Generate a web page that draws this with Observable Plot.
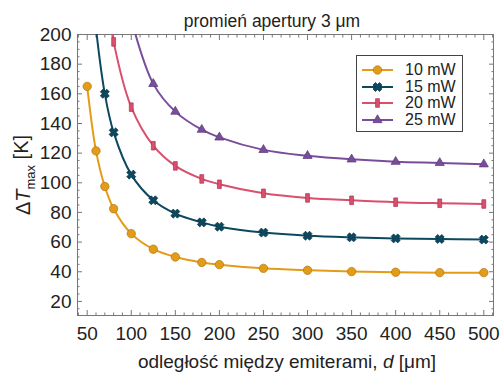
<!DOCTYPE html>
<html><head><meta charset="utf-8">
<script src="https://cdn.jsdelivr.net/npm/d3@7"></script>
<script src="https://cdn.jsdelivr.net/npm/@observablehq/plot@0.6"></script>
<style>
body{margin:0;background:#fff;font-family:"Liberation Sans",Arial,sans-serif}
#wrap{position:relative;width:504px;height:374px}
#legend{position:absolute;left:356px;top:55px;width:107px;height:77px;border:1px solid #444;background:#fff;box-sizing:border-box}
.row{position:absolute;left:0;height:16px;display:flex;align-items:center;font-size:16px;color:#222}
.row svg{margin-left:5px}
.row span{margin-left:12px}
</style></head><body><div id="wrap"><div id="legend"></div></div>
<script>
const distances = [50, 60, 70, 80, 100, 125, 150, 180, 200, 250, 300, 350, 400, 450, 500];
const seriesNames = ["10 mW", "15 mW", "20 mW", "25 mW"];
const dT10 = [165, 121.5, 97.5, 82.5, 65.7, 55.2, 50, 46.3, 44.8, 42.3, 41, 40.1, 39.7, 39.4, 39.4];
const dT15 = [268, 204, 160, 134, 105.5, 88.2, 79.2, 73.3, 70.4, 66.4, 64.3, 63.2, 62.5, 62.1, 61.7];
const dT20 = [null, 290, 235, 195, 151, 125, 111.4, 102.6, 99, 92.9, 89.8, 88.2, 86.9, 86.2, 85.7];
const dT25 = [null, null, null, 262, 210, 166.7, 148, 135.8, 130.6, 122.2, 118.2, 115.8, 114.2, 113.4, 112.5];
const xTicks = [50, 100, 150, 200, 250, 300, 350, 400, 450, 500];
const yTicks = [20, 40, 60, 80, 100, 120, 140, 160, 180, 200];
const xMinor = d3.range(40, 511, 10).filter(v => v % 50 !== 0);
const yMinor = d3.range(15, 200, 5).filter(v => v % 20 !== 0);

const colors = ["#e39c17", "#0c4860", "#d94f6c", "#7a4d9b"];
const edges = ["#b07510", "#06303f", "#a83550", "#5a3678"];

const symX = {draw(ctx, size) {
  const r = Math.sqrt(size / Math.PI) * 1.05, t = r * 0.38;
  const pts = [[t,-r],[t,-t],[r,-t],[r,t],[t,t],[t,r],[-t,r],[-t,t],[-r,t],[-r,-t],[-t,-t],[-t,-r]];
  const c = Math.SQRT1_2;
  pts.forEach(([x, y], i) => {
    const X = (x - y) * c, Y = (x + y) * c;
    i ? ctx.lineTo(X, Y) : ctx.moveTo(X, Y);
  });
  ctx.closePath();
}};
const symBar = {draw(ctx, size) {
  const r = Math.sqrt(size / Math.PI);
  const w = r * 0.45, h = r * 1.0;
  ctx.moveTo(-w, -h); ctx.lineTo(w, -h); ctx.lineTo(w, h); ctx.lineTo(-w, h); ctx.closePath();
}};
const symbols = ["circle", symX, symBar, "triangle"];
const radii = [4.2, 4.4, 4.3, 3.4];

const allSeries = [dT10, dT15, dT20, dT25];
const rows = [];
allSeries.forEach((vals, s) => distances.forEach((d, i) => {
  if (vals[i] != null) rows.push({s, name: seriesNames[s], d, v: vals[i]});
}));

const marks = [];
allSeries.forEach((vals, s) => {
  const data = rows.filter(r => r.s === s);
  marks.push(Plot.line(data, {x: "d", y: "v", stroke: colors[s], strokeWidth: 2, curve: "catmull-rom", clip: true}));
});
allSeries.forEach((vals, s) => {
  const data = rows.filter(r => r.s === s);
  marks.push(Plot.dot(data, {x: "d", y: "v", symbol: () => symbols[s], r: radii[s], fill: colors[s], stroke: edges[s], strokeWidth: 0.7, clip: true}));
});

const tickColor = "#777";
const plot = Plot.plot({
  width: 504, height: 374,
  marginLeft: 77, marginRight: 11, marginTop: 34, marginBottom: 59,
  style: {fontSize: "19px", fontFamily: "'Liberation Sans', Arial, sans-serif", color: "#222", background: "#fff"},
  x: {domain: [39, 511]},
  y: {domain: [10.5, 200]},
  symbol: {type: "identity"},
  marks: [
    Plot.frame({stroke: "#777", strokeWidth: 1}),
    Plot.axisX({anchor: "bottom", ticks: xTicks, tickSize: 5, dy: -5, text: null, stroke: tickColor, label: null}),
    Plot.axisX({anchor: "top", ticks: xTicks, tickSize: 5, dy: 5, text: null, stroke: tickColor, label: null}),
    Plot.axisX({anchor: "bottom", ticks: xMinor, tickSize: 2.5, dy: -2.5, text: null, stroke: tickColor, label: null}),
    Plot.axisX({anchor: "top", ticks: xMinor, tickSize: 2.5, dy: 2.5, text: null, stroke: tickColor, label: null}),
    Plot.axisY({anchor: "left", ticks: yTicks, tickSize: 5, dx: 5, text: null, stroke: tickColor, label: null}),
    Plot.axisY({anchor: "right", ticks: yTicks, tickSize: 5, dx: -5, text: null, stroke: tickColor, label: null}),
    Plot.axisY({anchor: "left", ticks: yMinor, tickSize: 2.5, dx: 2.5, text: null, stroke: tickColor, label: null}),
    Plot.axisY({anchor: "right", ticks: yMinor, tickSize: 2.5, dx: -2.5, text: null, stroke: tickColor, label: null}),
    Plot.axisX({anchor: "bottom", ticks: xTicks, tickSize: 0, tickPadding: 11, label: null, fill: "#222"}),
    Plot.axisY({anchor: "left", ticks: yTicks, tickSize: 0, tickPadding: 6, label: null, fill: "#222"}),
    ...marks
  ]
});
document.getElementById("wrap").prepend(plot);

const svg = d3.select(plot);
const font = "'Liberation Sans', Arial, sans-serif";
svg.append("text").attr("x", 272).attr("y", 27).attr("text-anchor", "middle")
  .attr("font-size", 17.5).attr("fill", "#222").attr("font-family", font).text("promień apertury 3 μm");
const xl = svg.append("text").attr("x", 287).attr("y", 368).attr("text-anchor", "middle")
  .attr("font-size", 19).attr("fill", "#222").attr("font-family", font);
xl.append("tspan").text("odległość między emiterami, ");
xl.append("tspan").attr("font-style", "italic").text("d");
xl.append("tspan").text(" [μm]");
const yl = svg.append("text").attr("transform", "translate(30,175) rotate(-90)").attr("text-anchor", "middle")
  .attr("font-size", 20).attr("fill", "#222").attr("font-family", font);
yl.append("tspan").text("Δ");
yl.append("tspan").attr("font-style", "italic").text("T");
yl.append("tspan").attr("font-size", 13).attr("dy", "0.35em").text("max");
yl.append("tspan").attr("dy", "-0.35em").text(" [K]");

const legend = d3.select("#legend");
seriesNames.forEach((name, s) => {
  const row = legend.append("div").attr("class", "row").style("top", (6 + s * 16.5) + "px");
  const sv = row.append("svg").attr("width", 31).attr("height", 14);
  sv.append("line").attr("x1", 0).attr("x2", 31).attr("y1", 7).attr("y2", 7).attr("stroke", colors[s]).attr("stroke-width", 2);
  const sym = typeof symbols[s] === "string" ? (symbols[s] === "circle" ? d3.symbolCircle : d3.symbolTriangle) : symbols[s];
  sv.append("path").attr("transform", "translate(15.5,7)")
    .attr("d", d3.symbol(sym, radii[s] * radii[s] * Math.PI)())
    .attr("fill", colors[s]).attr("stroke", edges[s]).attr("stroke-width", 0.7);
  row.append("span").text(name);
});
</script></body></html>
